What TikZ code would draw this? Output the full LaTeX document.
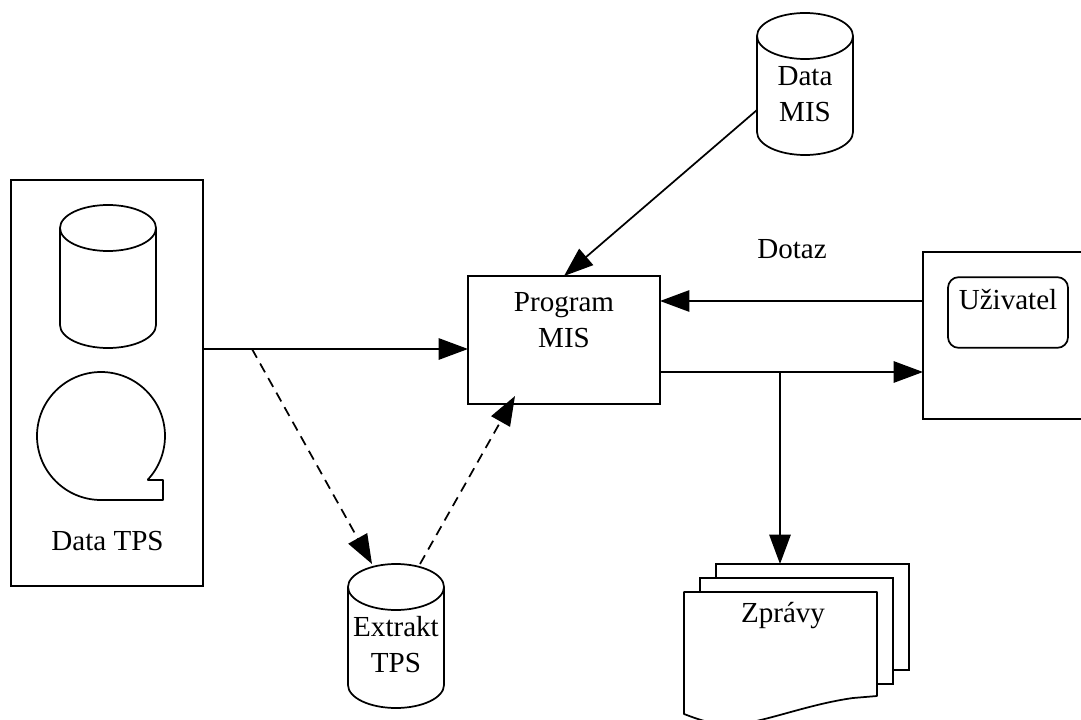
\documentclass[tikz,border=0pt]{standalone}
\usepackage{fontspec}
\setmainfont{Liberation Serif}[Kerning=Off]
\usetikzlibrary{arrows.meta,calc}
\tikzset{
  line/.style={line width=1.3pt,black,line join=round},
  box/.style={draw,line width=1.3pt,rectangle,outer sep=0pt,inner sep=0pt,fill=white},
  dbarea/.style={rectangle,outer sep=0pt,inner sep=0pt,minimum width=72pt},
  lbl/.style={font=\fontsize{21.8pt}{27pt}\selectfont,inner sep=0pt,align=center},
  conn/.style={line,-{Triangle[length=22pt,width=16pt]}},
  dconn/.style={line,dash pattern=on 7.5pt off 5pt,-{Triangle[length=22pt,width=16pt,sep=0pt]}},
}
% cylinder: centre x, top y, bottom y (pixels)
\newcommand{\dbdraw}[3]{%
  \draw[line,fill=white] (#1-48,#2+23) -- (#1-48,#3-23)
    arc[start angle=180,end angle=0,x radius=48,y radius=23]
    -- (#1+48,#2+23) arc[start angle=360,end angle=180,x radius=48,y radius=23] -- cycle;
  \draw[line] (#1-48,#2+23) arc[start angle=180,end angle=0,x radius=48,y radius=23];
}
\begin{document}
\begin{tikzpicture}[x=0.75pt,y=-0.75pt]
\useasboundingbox (0,0) rectangle (1081,720);
% Data TPS panel
\node[box,minimum width=144pt,minimum height=304.5pt] (dtps) at (107,383) {};
\dbdraw{108}{205}{348}
\node[dbarea,minimum height=107pt] (dbtps) at (108,276.5) {};
\draw[line,fill=white] (163,500) -- (101,500) arc[start angle=90,end angle=403,radius=64] -- (148,480) -- (163,480) -- cycle;
\node[lbl] (dtpslabel) at (107.5,541) {Data TPS};
% Program
\node[box,minimum width=144pt,minimum height=96pt] (prog) at (564,340) {};
\node[lbl] (progtext) at (564,320) {Program\\MIS};
% Data MIS
\dbdraw{805}{13}{155}
\node[dbarea,minimum height=106.5pt] (dmis) at (805,84) {};
\node[lbl] (dmistext) at (805,94) {Data\\MIS};
% Extrakt
\dbdraw{396}{564}{708}
\node[dbarea,minimum height=108pt] (extr) at (396,636) {};
\node[lbl] (extrtext) at (396,645) {Extrakt\\TPS};
% User
\node[box,anchor=north west,minimum width=150pt,minimum height=125pt] (user) at (923,252) {};
\node[draw,line width=1.3pt,rectangle,rounded corners=8pt,minimum width=90pt,minimum height=53pt,inner sep=0pt] (uzbox) at (1008,312.5) {};
\node[lbl] (uztext) at (1008,300) {Uživatel};
\node[lbl] (dotaz) at (792,249) {Dotaz};
% Reports
\node[box,anchor=north west,minimum width=144.75pt,minimum height=79.5pt] (rep3) at (716,564) {};
\node[box,anchor=north west,minimum width=144.75pt,minimum height=79.5pt] (rep2) at (700,578) {};
\draw[line,fill=white] (684,592) -- (877,592) -- (877,696) -- (853,698) .. controls (810,704) and (770,720) .. (740,724) .. controls (715,726) and (700,720) .. (684,714) -- cycle;
\node[lbl] (zpr) at (783,616) {Zprávy};
% Connector end coordinates
\coordinate (a1) at (dtps.east |- 0,349);
\coordinate (a2) at (prog.west |- 0,349);
\coordinate (b1) at (252,349);
\coordinate (b2) at (372,564);
\coordinate (c1) at (420,564);
\coordinate (c2) at (515,396);
\coordinate (d1) at (dmis.west |- 0,110);
\coordinate (e1) at (user.west |- 0,301);
\coordinate (e2) at (prog.east |- 0,301);
\coordinate (f1) at (prog.east |- 0,372);
\coordinate (f2) at (user.west |- 0,372);
\coordinate (g1) at (780,372);
\coordinate (g2) at (780,564);
\draw[conn] (a1) -- (a2);
\draw[dconn] (b1) -- (b2);
\draw[dconn] (c1) -- (c2);
\draw[conn] (d1) -- (prog.north);
\draw[conn] (e1) -- (e2);
\draw[conn] (f1) -- (f2);
\draw[conn] (g1) -- (g2);
\end{tikzpicture}
\end{document}
